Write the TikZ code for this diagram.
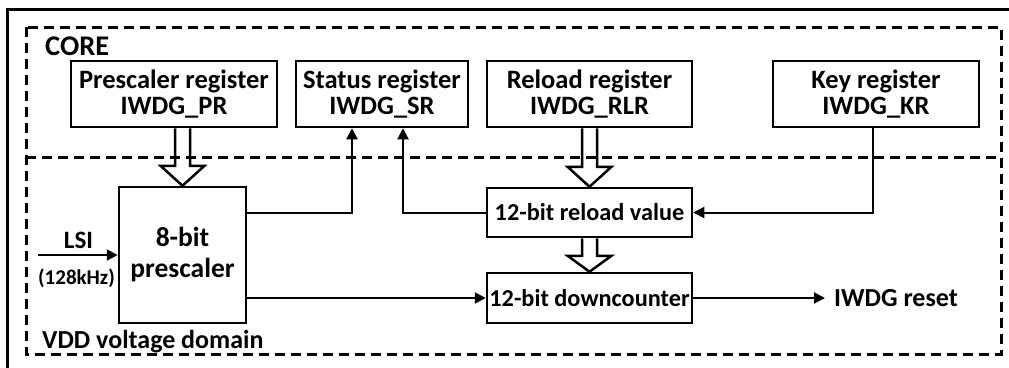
\documentclass[tikz,border=0pt]{standalone}
\usepackage{fontspec}
\setmainfont{Carlito}
\usetikzlibrary{arrows.meta,calc}
\tikzset{
  box/.style={draw, line width=2.5pt, inner sep=0pt, align=center, font=\fontsize{24.3}{26}\selectfont\bfseries},
  regbox/.style={box, minimum height=66pt, font=\fontsize{26.5}{26.5}\selectfont\bfseries},
  arr/.style={line width=2pt, -{Triangle[length=11pt,width=11pt]}},
  dashline/.style={line width=3pt, dash pattern=on 10pt off 6pt},
  hollow/.style={line width=2.5pt, line join=miter},
  lbl/.style={inner sep=0pt, font=\fontsize{26}{28}\selectfont\bfseries}
}
\begin{document}
\begin{tikzpicture}[x=1pt,y=-1pt]
\useasboundingbox (0,0) rectangle (1009,367);
\clip (0,0) rectangle (1009,367);
% outer solid frame
\draw[line width=3pt] (7,9) rectangle (1020,380);
% dashed domains
\draw[dashline] (26,27) rectangle (1001,354);
\draw[dashline] (26,157) -- (1001,157);
\node[lbl, font=\fontsize{28.5}{30}\selectfont\bfseries, anchor=base west] (core) at (45,55) {CORE};
\node[lbl, anchor=base west] (vdd) at (42,348) {VDD voltage domain};
% register boxes
\node[regbox, minimum width=206pt] (pr) at (174,94) {Prescaler register\\IWDG\_PR};
\node[regbox, minimum width=172pt] (sr) at (382,94) {Status register\\IWDG\_SR};
\node[regbox, minimum width=205pt] (rlr) at (589.5,94) {Reload register\\IWDG\_RLR};
\node[regbox, minimum width=206pt] (kr) at (876,94) {Key register\\IWDG\_KR};
% lower boxes
\node[box, font=\fontsize{27.5}{31}\selectfont\bfseries, minimum width=127pt, minimum height=136pt] (presc) at (182.5,255) {8-bit\\prescaler};
\node[box, minimum width=205pt, minimum height=49pt] (rv) at (589.5,212.5) {12-bit reload value};
\node[box, minimum width=205pt, minimum height=50pt] (dc) at (589.5,298) {12-bit downcounter};
% hollow arrows
\draw[hollow] ($(pr.south -| presc.north)+(-7.5,0)$) -- ($(presc.north)+(-7.5,-20)$) -- ($(presc.north)+(-22,-20)$) -- (presc.north) -- ($(presc.north)+(22,-20)$) -- ($(presc.north)+(7.5,-20)$) -- ($(pr.south -| presc.north)+(7.5,0)$);
\draw[hollow] ($(rlr.south)+(-7.5,0)$) -- ($(rv.north)+(-7.5,-20)$) -- ($(rv.north)+(-22,-20)$) -- (rv.north) -- ($(rv.north)+(22,-20)$) -- ($(rv.north)+(7.5,-20)$) -- ($(rlr.south)+(7.5,0)$);
\draw[hollow] ($(rv.south)+(-7.5,0)$) -- ($(dc.north)+(-7.5,-16)$) -- ($(dc.north)+(-22,-16)$) -- (dc.north) -- ($(dc.north)+(22,-16)$) -- ($(dc.north)+(7.5,-16)$) -- ($(rv.south)+(7.5,0)$);
% connectors
\draw[arr] (presc.east |- rv.west) -| ([xshift=-30pt]sr.south);
\draw[arr] (rv.west) -| ([xshift=21pt]sr.south);
\draw[arr] ([xshift=-3pt]kr.south) |- (rv.east);
\coordinate (lsiin) at (38,255);
\draw[arr] (lsiin) -- (presc.west);
\node[lbl, font=\fontsize{25}{27}\selectfont\bfseries, anchor=base] (lsi) at (78.5,248) {LSI};
\node[lbl, font=\fontsize{21}{23}\selectfont\bfseries, anchor=base] (freq) at (76.5,284) {(128kHz)};
\draw[arr] (presc.east |- dc.west) -- (dc.west);
\node[lbl, anchor=west] (reset) at (834,298) {IWDG reset};
\draw[arr] (dc.east) -- ([xshift=-9pt]reset.west);
\end{tikzpicture}
\end{document}
